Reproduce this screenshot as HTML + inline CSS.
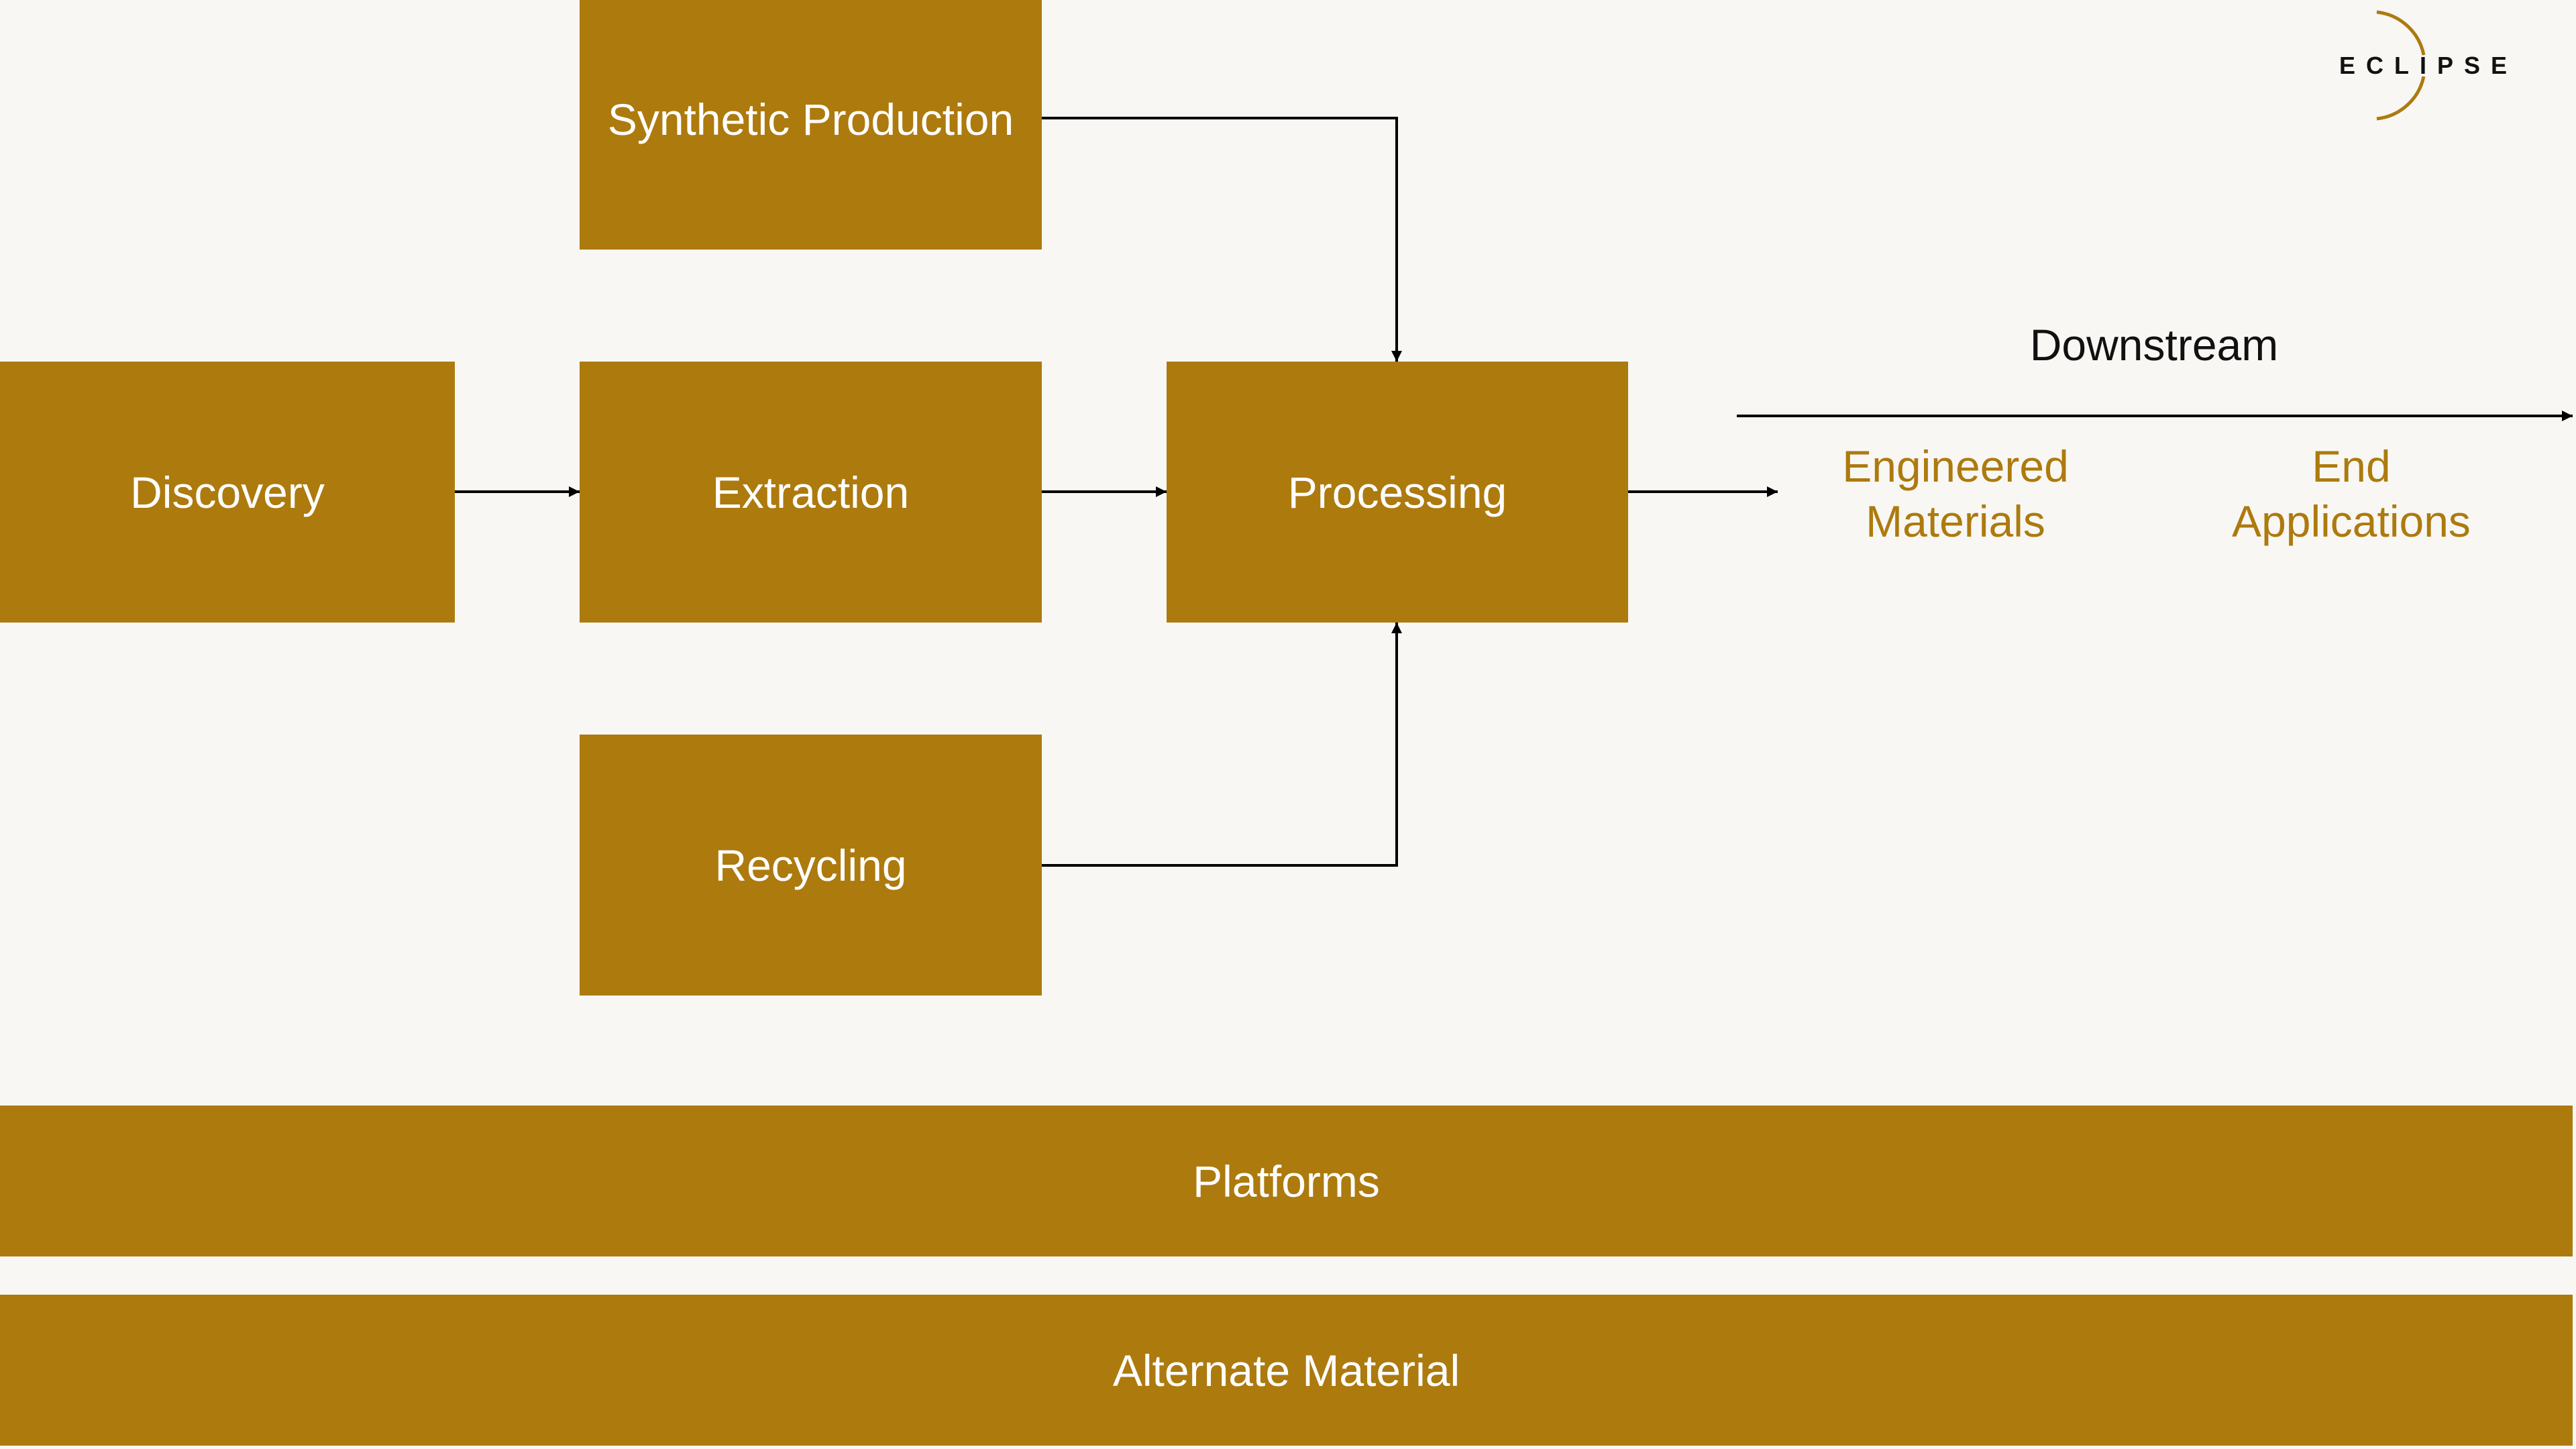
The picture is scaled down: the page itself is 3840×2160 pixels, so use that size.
<!DOCTYPE html>
<html><head><meta charset="utf-8"><style>
html,body{margin:0;padding:0}
body{width:3840px;height:2160px;background:#F8F7F4;position:relative;overflow:hidden;font-family:"Liberation Sans",sans-serif}
.b{position:absolute;background:#AD7A0E;color:#fff;display:flex;align-items:center;justify-content:center;font-size:66px}
.t{position:absolute;text-align:center;font-size:66px;line-height:82px}
</style></head><body>
<div class="b" style="left:864px;top:0;width:689px;height:356px">Synthetic Production</div>
<div class="b" style="left:864px;top:356px;width:689px;height:16px"></div>
<div class="b" style="left:0;top:539px;width:678px;height:389px">Discovery</div>
<div class="b" style="left:864px;top:539px;width:689px;height:389px">Extraction</div>
<div class="b" style="left:1739px;top:539px;width:688px;height:389px">Processing</div>
<div class="b" style="left:864px;top:1095px;width:689px;height:389px">Recycling</div>
<div class="b" style="left:0;top:1648px;width:3835px;height:225px">Platforms</div>
<div class="b" style="left:0;top:1930px;width:3835px;height:225px">Alternate Material</div>
<div class="t" style="left:2911px;top:473px;width:600px;color:#111">Downstream</div>
<div class="t" style="left:2615px;top:654px;width:600px;color:#AD7A0E">Engineered<br>Materials</div>
<div class="t" style="left:3205px;top:654px;width:600px;color:#AD7A0E">End<br>Applications</div>
<svg width="3840" height="2160" style="position:absolute;left:0;top:0">
<defs><marker id="m" markerWidth="16" markerHeight="16" refX="16" refY="8" orient="auto" markerUnits="userSpaceOnUse"><path d="M0,0 L16,8 L0,16z" fill="#000"/></marker></defs>
<g stroke="#000" stroke-width="4" fill="none">
<line x1="678" y1="733" x2="864" y2="733" marker-end="url(#m)"/>
<line x1="1553" y1="733" x2="1739" y2="733" marker-end="url(#m)"/>
<line x1="2427" y1="733" x2="2650" y2="733" marker-end="url(#m)"/>
<polyline points="1553,176 2082,176 2082,539" marker-end="url(#m)"/>
<polyline points="1553,1290 2082,1290 2082,928" marker-end="url(#m)"/>
<line x1="2589" y1="620" x2="3835" y2="620" marker-end="url(#m)"/>
</g>
<path d="M3543,18 A80,80 0 0 1 3613,82 M3613,114 A80,80 0 0 1 3543,177" stroke="#AD7A0E" stroke-width="5" fill="none"/>
<text x="3620" y="110" text-anchor="middle" font-family="Liberation Sans" font-weight="bold" font-size="36" letter-spacing="16" fill="#111">ECLIPSE</text>
</svg>
</body></html>
